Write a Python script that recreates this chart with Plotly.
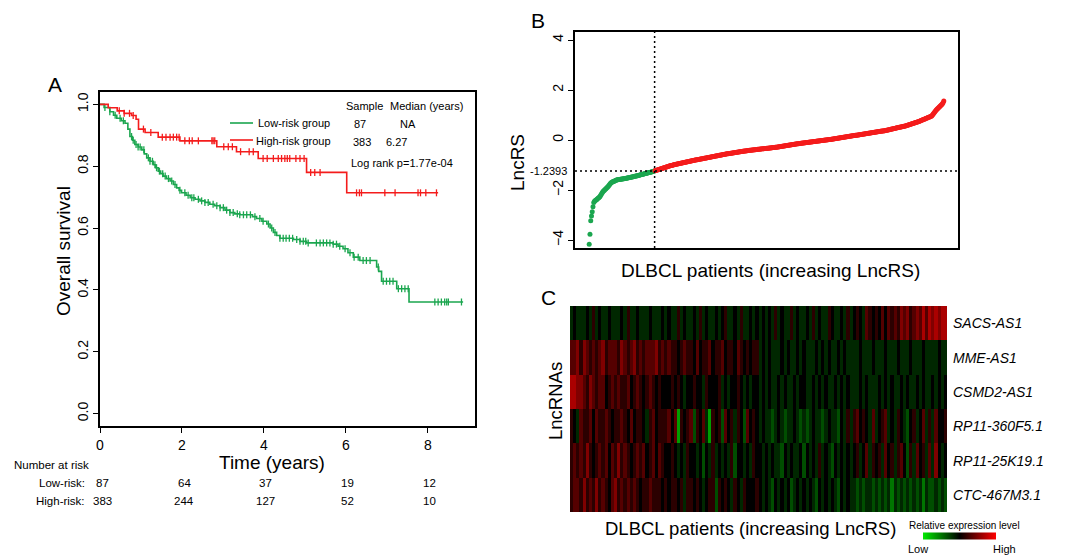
import numpy as np
import plotly.graph_objects as go

W, H = 1081, 556
FONT = "Arial, 'Liberation Sans', sans-serif"
GREEN = "#1ba64f"
RED = "#f41c1c"

# ---------------- Panel A: Kaplan-Meier data ----------------
year_ticks = [0, 2, 4, 6, 8]
surv_ticks = [0.0, 0.2, 0.4, 0.6, 0.8, 1.0]
low_risk_at_risk = [87, 64, 37, 19, 12]
high_risk_at_risk = [383, 244, 127, 52, 10]

green_times = [0.10, 0.24, 0.33, 0.41, 0.52, 0.61, 0.68, 0.73, 0.79, 0.85,
               0.93, 1.02, 1.08, 1.14, 1.22, 1.30, 1.36, 1.42, 1.48, 1.54,
               1.62, 1.71, 1.79, 1.87, 1.93, 1.99, 2.10, 2.20, 2.32, 2.44,
               2.56, 2.68, 2.80, 2.93, 3.05, 3.17, 3.29, 3.41, 3.72, 3.82,
               3.95, 4.07, 4.15, 4.23, 4.31, 4.39, 4.72, 4.88, 5.04, 5.69,
               5.81, 5.93, 6.05, 6.18, 6.34, 6.75, 6.80, 6.87, 7.24, 7.54]
green_surv = [0.990, 0.976, 0.965, 0.955, 0.947, 0.939, 0.920, 0.896, 0.884, 0.870,
              0.862, 0.853, 0.840, 0.827, 0.816, 0.805, 0.795, 0.784, 0.776, 0.768,
              0.760, 0.752, 0.741, 0.730, 0.722, 0.714, 0.706, 0.698, 0.693, 0.688,
              0.683, 0.677, 0.672, 0.666, 0.658, 0.650, 0.646, 0.643, 0.637, 0.631,
              0.622, 0.613, 0.600, 0.586, 0.576, 0.567, 0.563, 0.557, 0.552, 0.548,
              0.541, 0.533, 0.520, 0.506, 0.495, 0.474, 0.460, 0.428, 0.404, 0.361]
green_censor = [0.12, 0.24, 0.37, 0.49, 0.57, 0.77, 0.81, 0.88, 0.93, 0.98,
                1.07, 1.18, 1.22, 1.28, 1.34, 1.38, 1.45, 1.53, 1.59, 1.67,
                1.75, 1.83, 1.95, 2.07, 2.15, 2.24, 2.29, 2.40, 2.48, 2.56,
                2.64, 2.76, 2.85, 2.93, 3.01, 3.09, 3.17, 3.25, 3.35, 3.41,
                3.50, 3.58, 3.67, 3.78, 3.90, 3.98, 4.11, 4.19, 4.27, 4.39,
                4.47, 4.54, 4.62, 4.70, 4.80, 4.88, 4.96, 5.02, 5.08, 5.28,
                5.37, 5.45, 5.53, 5.61, 5.69, 5.77, 5.85, 5.98, 6.10, 6.20,
                6.30, 6.42, 6.50, 6.59, 6.79, 6.91, 6.99, 7.07, 7.15, 7.28,
                7.36, 7.44, 7.52, 8.17, 8.25, 8.33, 8.41, 8.46, 8.50, 8.82]
green_end = 8.86

red_times = [0.20, 0.42, 0.59, 0.77, 0.88, 0.94, 1.10, 1.42, 1.95, 2.85, 3.33, 3.86, 5.04, 6.02]
red_surv = [0.989, 0.979, 0.971, 0.964, 0.952, 0.920, 0.909, 0.894, 0.882, 0.863, 0.847, 0.825, 0.780, 0.714]
red_censor = [0.47, 0.59, 0.72, 0.81, 1.06, 1.24, 1.52, 1.61, 1.71, 1.79,
              1.87, 1.93, 2.07, 2.18, 2.25, 2.40, 2.73, 2.76, 2.80, 3.02,
              3.13, 3.23, 3.43, 3.64, 3.74, 3.98, 4.08, 4.23, 4.35, 4.43,
              4.51, 4.57, 4.63, 4.78, 4.88, 4.98, 5.14, 5.24, 5.37, 6.26,
              6.33, 6.38, 6.95, 7.20, 7.76, 7.82, 7.95, 8.21]
red_end = 8.25

# ---------------- Panel B: risk score data ----------------
lncrs_cutoff = -1.2393
lncrs_low = [-4.17, -3.77, -3.23, -3.04, -2.87, -2.67, -2.50, -2.45, -2.42, -2.40,
             -2.38, -2.35, -2.32, -2.30, -2.27, -2.22, -2.17, -2.12, -2.07, -2.04,
             -2.01, -1.98, -1.95, -1.92, -1.89, -1.86, -1.82, -1.78, -1.74, -1.71,
             -1.69, -1.67, -1.66, -1.65, -1.63, -1.62, -1.60,
             -1.59, -1.59, -1.58, -1.58, -1.57, -1.57, -1.56, -1.56, -1.55, -1.55, -1.54, -1.54, -1.53,
             -1.52, -1.52, -1.51, -1.50, -1.50, -1.49, -1.48, -1.48, -1.47, -1.46, -1.45, -1.45,
             -1.44, -1.43, -1.43, -1.42, -1.41, -1.40,
             -1.39, -1.38, -1.38, -1.37, -1.36, -1.35, -1.34, -1.34, -1.33, -1.32, -1.31, -1.30,
             -1.30, -1.29, -1.28, -1.27, -1.26, -1.25, -1.24]
lncrs_high = [-1.23, -1.22, -1.21, -1.20, -1.19, -1.18, -1.17, -1.16, -1.15, -1.14,
              -1.13, -1.12, -1.11, -1.10, -1.09, -1.08, -1.07, -1.06, -1.05, -1.04,
              -1.03, -1.02, -1.02, -1.01, -1.00,
              -0.99, -0.98, -0.98, -0.97, -0.96, -0.96, -0.95, -0.94, -0.94, -0.93,
              -0.92, -0.92, -0.91, -0.90, -0.90, -0.89, -0.88, -0.88, -0.87, -0.86,
              -0.86, -0.85, -0.84, -0.84, -0.83, -0.82, -0.82, -0.81, -0.80, -0.80,
              -0.79, -0.79, -0.78, -0.78, -0.77,
              -0.76, -0.76, -0.75, -0.75, -0.74, -0.73, -0.73, -0.72, -0.72, -0.71,
              -0.70, -0.70, -0.69, -0.69, -0.68, -0.67, -0.67, -0.66, -0.66, -0.65,
              -0.64, -0.64, -0.63, -0.63, -0.62, -0.61, -0.61, -0.60, -0.60, -0.59,
              -0.58, -0.58, -0.57, -0.57, -0.56,
              -0.55, -0.55, -0.55, -0.54, -0.54, -0.53, -0.53, -0.52, -0.52, -0.51,
              -0.51, -0.50, -0.50, -0.49, -0.49, -0.48, -0.48, -0.47, -0.47, -0.46,
              -0.46, -0.45, -0.45, -0.44, -0.44, -0.44, -0.43, -0.43, -0.42, -0.42,
              -0.41, -0.41, -0.41, -0.40, -0.40,
              -0.40, -0.39, -0.39, -0.39, -0.38, -0.38, -0.37, -0.37, -0.37, -0.36,
              -0.36, -0.36, -0.35, -0.35, -0.35, -0.34, -0.34, -0.34, -0.33, -0.33,
              -0.33, -0.32, -0.32, -0.32, -0.31, -0.31, -0.30, -0.30, -0.30, -0.29,
              -0.29, -0.29, -0.28, -0.28, -0.27,
              -0.27, -0.26, -0.26, -0.25, -0.25, -0.24, -0.24, -0.23, -0.23, -0.22,
              -0.22, -0.21, -0.21, -0.20, -0.20, -0.19, -0.19, -0.18, -0.18, -0.17,
              -0.17, -0.16, -0.16, -0.15, -0.15, -0.15, -0.14, -0.14, -0.13, -0.13,
              -0.12, -0.12, -0.12, -0.11, -0.11,
              -0.10, -0.10, -0.10, -0.09, -0.09, -0.08, -0.08, -0.08, -0.07, -0.07,
              -0.06, -0.06, -0.06, -0.05, -0.05, -0.04, -0.04, -0.04, -0.03, -0.03,
              -0.02, -0.02, -0.02, -0.01, -0.01, 0.00, 0.00, 0.00, 0.01, 0.01,
              0.02, 0.02, 0.02, 0.03, 0.03,
              0.04, 0.04, 0.05, 0.05, 0.06, 0.06, 0.07, 0.07, 0.08, 0.08,
              0.09, 0.09, 0.10, 0.10, 0.11, 0.11, 0.12, 0.12, 0.13, 0.13,
              0.14, 0.14, 0.15, 0.15, 0.16, 0.16, 0.17, 0.17, 0.18, 0.18,
              0.19, 0.19, 0.19, 0.20, 0.20,
              0.21, 0.21, 0.22, 0.22, 0.23, 0.23, 0.24, 0.24, 0.25, 0.25,
              0.26, 0.26, 0.27, 0.27, 0.28, 0.28, 0.29, 0.29, 0.30, 0.30,
              0.31, 0.31, 0.32, 0.32, 0.33, 0.33, 0.34, 0.34, 0.35, 0.35,
              0.36, 0.36, 0.36, 0.37, 0.37,
              0.38, 0.39, 0.39, 0.40, 0.41, 0.41, 0.42, 0.43, 0.44, 0.44,
              0.45, 0.46, 0.46, 0.47, 0.48, 0.49, 0.49, 0.50, 0.51, 0.51,
              0.52, 0.53, 0.53, 0.54, 0.55, 0.55, 0.56,
              0.57, 0.58, 0.59, 0.60, 0.61, 0.62, 0.63, 0.64, 0.65, 0.66,
              0.67, 0.68, 0.69, 0.70, 0.71, 0.72, 0.73,
              0.74, 0.75, 0.77, 0.78, 0.79, 0.81, 0.82, 0.83, 0.84, 0.86,
              0.87, 0.88, 0.90, 0.91, 0.92, 0.93, 0.95, 0.96,
              1.00, 1.04, 1.08, 1.12, 1.16, 1.20, 1.23, 1.26, 1.29, 1.32,
              1.35, 1.38, 1.41, 1.44, 1.49, 1.56]
lncrs_ticks = [-4, -2, 0, 2, 4]

# ---------------- Panel C: heatmap data (levels 0 = green .. 4 = black .. 8 = red) ----------------
lncrnas = ["SACS-AS1", "MME-AS1", "CSMD2-AS1", "RP11-360F5.1", "RP11-25K19.1", "CTC-467M3.1"]
row_sacs = ("343334353433433343533433343334" "343353433435343343453343533434"
            "343435343353433435343354334353" "454365454646565767567686878788")
row_mme = ("667576565675666576567565666756" "565545655464556455645546545455"
           "343433343433434333434343343433" "334333433343334333433343333433")
row_csmd2 = ("887765765664565655645654565454" "445454344544354445343445434344"
             "343433434334344334343433434343" "334343334343433434334343343434")
row_rp360 = ("543655646556545565464554356455" "564605456254630545264535426454"
             "343323432334323234332343324353" "564543634563435432453463536445")
row_rp25 = ("565657545656465756545656456465" "445434354434243534343524434354"
            "434343324343342434353432434343" "453463545364535642536453637434")
row_ctc = ("566575657565467565656545565554" "545545355454345525454354354445"
           "434324343423434343243434324343" "323233232323132323232313223232")
heat_rows = [row_sacs, row_mme, row_csmd2, row_rp360, row_rp25, row_ctc]
heat_zmin, heat_zmax = -2, 10


def px(x):
    return x / W


def py(y):
    return 1 - y / H


def step_lookup(times, surv, t):
    idx = np.searchsorted(np.array(times), np.array(t), side="right") - 1
    s = np.array([1.0] + list(surv))
    return s[idx + 1]


fig = go.Figure()

# Panel A curves
for times, surv, cens, end, col in [(green_times, green_surv, green_censor, green_end, GREEN),
                                     (red_times, red_surv, red_censor, red_end, RED)]:
    xs = [0] + times + [end]
    ys = [1.0] + surv + [surv[-1]]
    fig.add_trace(go.Scatter(x=xs, y=ys, mode="lines", line=dict(color=col, width=1.6, shape="hv"),
                             xaxis="x", yaxis="y", hoverinfo="skip"))
    fig.add_trace(go.Scatter(x=cens, y=step_lookup(times, surv, cens), mode="markers",
                             marker=dict(symbol="line-ns", size=5, line=dict(color=col, width=1.3)),
                             xaxis="x", yaxis="y", hoverinfo="skip"))

# Panel B points
n_low = len(lncrs_low)
n_all = n_low + len(lncrs_high)
fig.add_trace(go.Scatter(x=list(range(1, n_low + 1)), y=lncrs_low, mode="markers",
                         marker=dict(color=GREEN, size=5), xaxis="x2", yaxis="y2"))
fig.add_trace(go.Scatter(x=list(range(n_low + 1, n_all + 1)), y=lncrs_high, mode="markers",
                         marker=dict(color=RED, size=5), xaxis="x2", yaxis="y2"))

# Panel C heatmap
ncol = min(len(r) for r in heat_rows)
z = [[int(c) for c in r[:ncol]] for r in heat_rows]
xcols = [(j + 0.5) * n_all / ncol for j in range(ncol)]
fig.add_trace(go.Heatmap(
    z=z, x=xcols, y=list(range(len(lncrnas))), zmin=heat_zmin, zmax=heat_zmax,
    colorscale=[[0, "rgb(0,235,0)"], [0.5, "rgb(0,0,0)"], [1, "rgb(255,0,0)"]],
    xaxis="x3", yaxis="y3", hoverinfo="skip",
    colorbar=dict(orientation="h", x=px(959.5), xanchor="center", y=py(536), yanchor="middle",
                  len=73, lenmode="pixels", thickness=7, thicknessmode="pixels",
                  showticklabels=False, ticks="", outlinewidth=0, xpad=0, ypad=0)))

axis_common = dict(showline=True, linecolor="black", linewidth=1.5, mirror=True, showgrid=False,
                   zeroline=False, ticks="outside", ticklen=5, tickwidth=1, tickcolor="black",
                   tickfont=dict(size=14, color="black", family=FONT))

fig.update_layout(
    width=W, height=H, margin=dict(l=0, r=0, t=0, b=0, autoexpand=False),
    paper_bgcolor="white", plot_bgcolor="white", showlegend=False,
    font=dict(family=FONT, color="black"),
    xaxis=dict(domain=[px(100), px(475)], anchor="y", range=[0, 9.15], tickvals=year_ticks, **axis_common),
    yaxis=dict(domain=[py(426), py(92)], anchor="x", range=[-0.04, 1.04], tickvals=surv_ticks,
               tickformat=".1f", tickangle=-90, **axis_common),
    xaxis2=dict(domain=[px(575), px(958)], anchor="y2", range=[-17.8, n_all + 18.8],
                showticklabels=False, **{k: v for k, v in axis_common.items() if k != "ticks"}, ticks=""),
    yaxis2=dict(domain=[py(248), py(32)], anchor="x2", range=[-4.32, 4.32], tickvals=lncrs_ticks,
                tickangle=-90, **axis_common),
    xaxis3=dict(domain=[px(570), px(947)], anchor="y3", range=[0, n_all], showticklabels=False,
                showline=False, showgrid=False, zeroline=False, ticks=""),
    yaxis3=dict(domain=[py(512), py(306)], anchor="x3", range=[len(lncrnas) - 0.5, -0.5],
                showticklabels=False, showline=False, showgrid=False, zeroline=False, ticks=""),
)

shapes = [
    dict(type="line", xref="x2 domain", yref="y2", x0=0, x1=1, y0=lncrs_cutoff, y1=lncrs_cutoff,
         line=dict(color="black", width=1.5, dash="2px,3px")),
    dict(type="line", xref="x2", yref="y2 domain", x0=n_low + 0.5, x1=n_low + 0.5, y0=0, y1=1,
         line=dict(color="black", width=1.5, dash="2px,3px")),
    dict(type="line", xref="paper", yref="paper", x0=px(230), x1=px(253), y0=py(123), y1=py(123),
         line=dict(color=GREEN, width=1.6)),
    dict(type="line", xref="paper", yref="paper", x0=px(230), x1=px(253), y0=py(140), y1=py(140),
         line=dict(color=RED, width=1.6)),
]
fig.update_layout(shapes=shapes)

ann = []


def add_text(text, x, y, size, xanchor="center", yanchor="middle", angle=0, italic=False, xref="paper", yref="paper"):
    ann.append(dict(text=f"<i>{text}</i>" if italic else text, x=x, y=y, xref=xref, yref=yref,
                    xanchor=xanchor, yanchor=yanchor, showarrow=False, textangle=angle,
                    font=dict(size=size, family=FONT, color="black")))


# panel letters
add_text("A", px(55), py(85), 21)
add_text("B", px(538), py(20), 21)
add_text("C", px(548), py(297), 21)

# Panel A titles
add_text("Overall survival", px(63), py(251), 19, angle=-90)
add_text("Time (years)", px(272), py(462), 19)
# legend block
add_text("Sample", px(344), py(106), 11, xanchor="left")
add_text("Median (years)", px(388), py(106), 11, xanchor="left")
add_text("Low-risk group", px(256), py(123), 11, xanchor="left")
add_text("High-risk group", px(254), py(141), 11, xanchor="left")
add_text(str(low_risk_at_risk[0]), px(352), py(124), 11, xanchor="left")
add_text("NA", px(398), py(124), 11, xanchor="left")
add_text(str(high_risk_at_risk[0]), px(351), py(142), 11, xanchor="left")
add_text("6.27", px(384), py(142), 11, xanchor="left")
add_text("Log rank p=1.77e-04", px(349), py(163), 11, xanchor="left")
# risk table
add_text("Number at risk", px(12), py(465), 11.5, xanchor="left")
add_text("Low-risk:", px(87), py(483), 11.5, xanchor="right")
add_text("High-risk:", px(87), py(501), 11.5, xanchor="right")
for t, a, b in zip(year_ticks, low_risk_at_risk, high_risk_at_risk):
    add_text(str(a), t + 0.05, py(483), 11.5, xref="x")
    add_text(str(b), t + 0.05, py(501), 11.5, xref="x")

# Panel B
add_text("LncRS", px(518), py(163), 19, angle=-90)
add_text("DLBCL patients (increasing LncRS)", px(770), py(270), 19)
add_text(f"{lncrs_cutoff:.4f}", px(569), lncrs_cutoff, 11, xanchor="right", yref="y2")

# Panel C
add_text("LncRNAs", px(555), py(401), 18.5, angle=-90)
add_text("DLBCL patients (increasing LncRS)", px(750), py(528), 18.5)
for i, name in enumerate(lncrnas):
    add_text(name, px(951), i, 14, xanchor="left", italic=True, yref="y3")
add_text("Relative expression level", px(964), py(525), 10)
add_text("Low", px(918), py(549), 11)
add_text("High", px(1004), py(549), 11)

fig.update_layout(annotations=ann)
fig.write_html("out.html", config={"displayModeBar": False},
               post_script="document.body.style.margin='0';document.body.style.overflow='hidden';")
